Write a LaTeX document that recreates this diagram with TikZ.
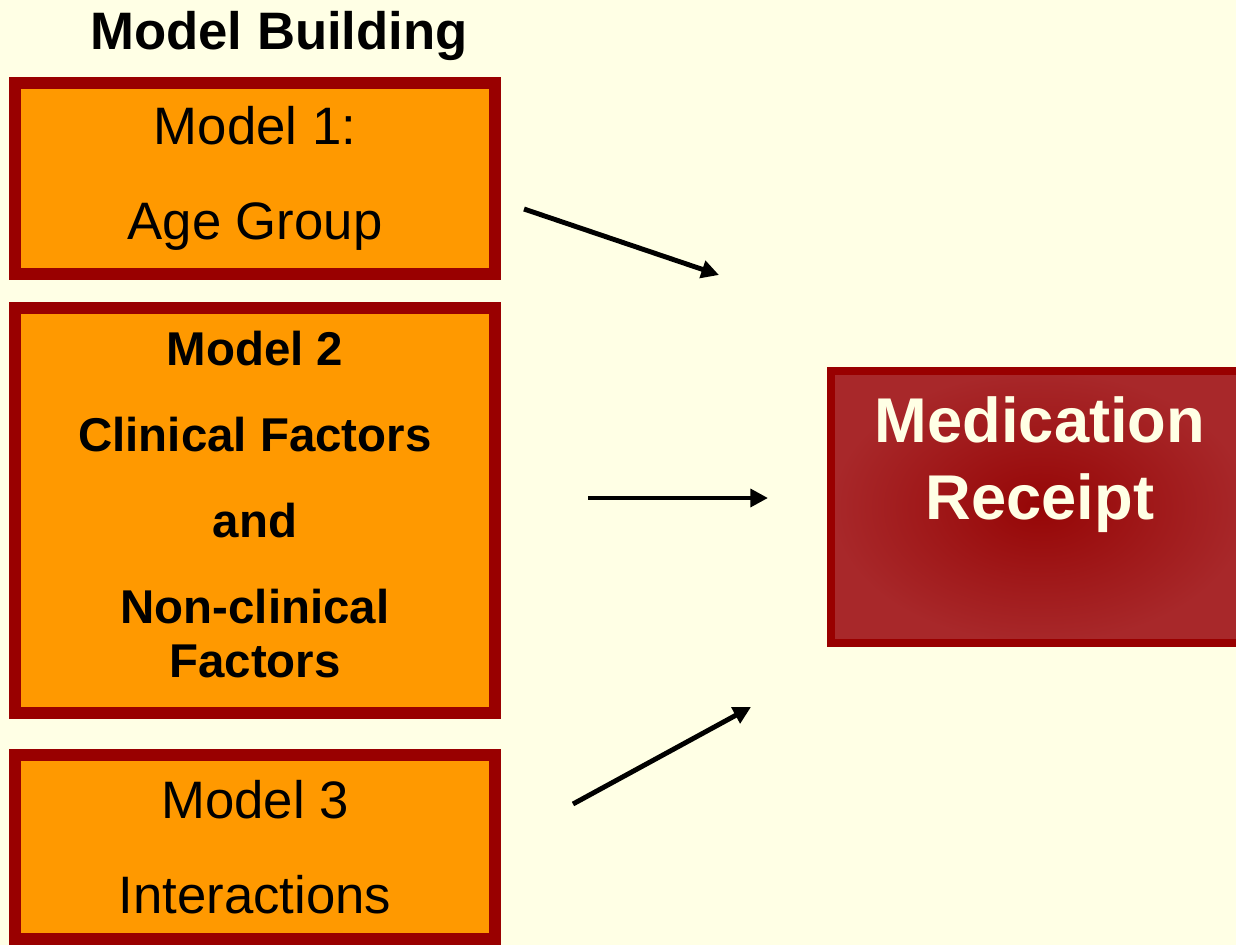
\documentclass[tikz,border=0pt]{standalone}
\usepackage{fontspec}
\setmainfont{Liberation Sans}
\usetikzlibrary{arrows.meta, positioning}
\definecolor{bgcream}{RGB}{255, 255, 229}
\definecolor{modelorange}{RGB}{255, 153, 0}
\definecolor{modelborder}{RGB}{153, 0, 0}
\definecolor{receiptred}{RGB}{168, 40, 42}
\definecolor{receiptcore}{RGB}{150, 6, 6}

\begin{document}
\begin{tikzpicture}[
    x=0.02cm, y=-0.02cm,
    modelbox/.style={rectangle, draw=modelborder, fill=modelorange, line width=0.24cm, minimum width=9.6cm, inner sep=0pt, align=center},
    receiptbox/.style={rectangle, draw=modelborder, inner color=receiptcore, outer color=receiptred, line width=0.16cm, minimum width=8.36cm, minimum height=5.44cm, inner sep=0pt},
    flow/.style={-{Triangle[length=10pt, width=10pt]}, line width=2.8pt, black}
]
\fill[bgcream] (0,0) rectangle (1236,945);
\useasboundingbox (0,0) rectangle (1236,945);

\node[anchor=base, font=\fontsize{30}{36}\selectfont\bfseries] (title) at (279,50) {Model Building};

% the three model stages
\node[modelbox, minimum height=3.82cm, font=\fontsize{30}{54}\selectfont] (m1) at (255,178.5) {Model 1:\\Age Group};
\node[modelbox, minimum height=8.1cm, font=\fontsize{27}{49}\selectfont\bfseries] (m2) at (255,510.5) {Model 2\\Clinical Factors\\and\\Non-clinical\\[-18pt]Factors\rule[-7pt]{0pt}{7pt}};
\node[modelbox, minimum height=3.68cm, font=\fontsize{30}{54}\selectfont] (m3) at (255,847) {Model 3\\Interactions};

% outcome
\node[receiptbox] (receipt) at (1040,507) {};
\node[align=center, text=bgcream, yshift=24pt, font=\fontsize{36}{43.7}\selectfont\bfseries] (receipttxt) at (receipt) {Medication\\Receipt};

\coordinate (a1s) at (524,209);
\coordinate (a1e) at (719,275);
\coordinate (a2s) at (588,498);
\coordinate (a2e) at (768,498);
\coordinate (a3s) at (573,804);
\coordinate (a3e) at (751,707);

\draw[flow] (a1s) -- (a1e);
\draw[flow] (a2s) -- (a2e);
\draw[flow] (a3s) -- (a3e);
\end{tikzpicture}
\end{document}
